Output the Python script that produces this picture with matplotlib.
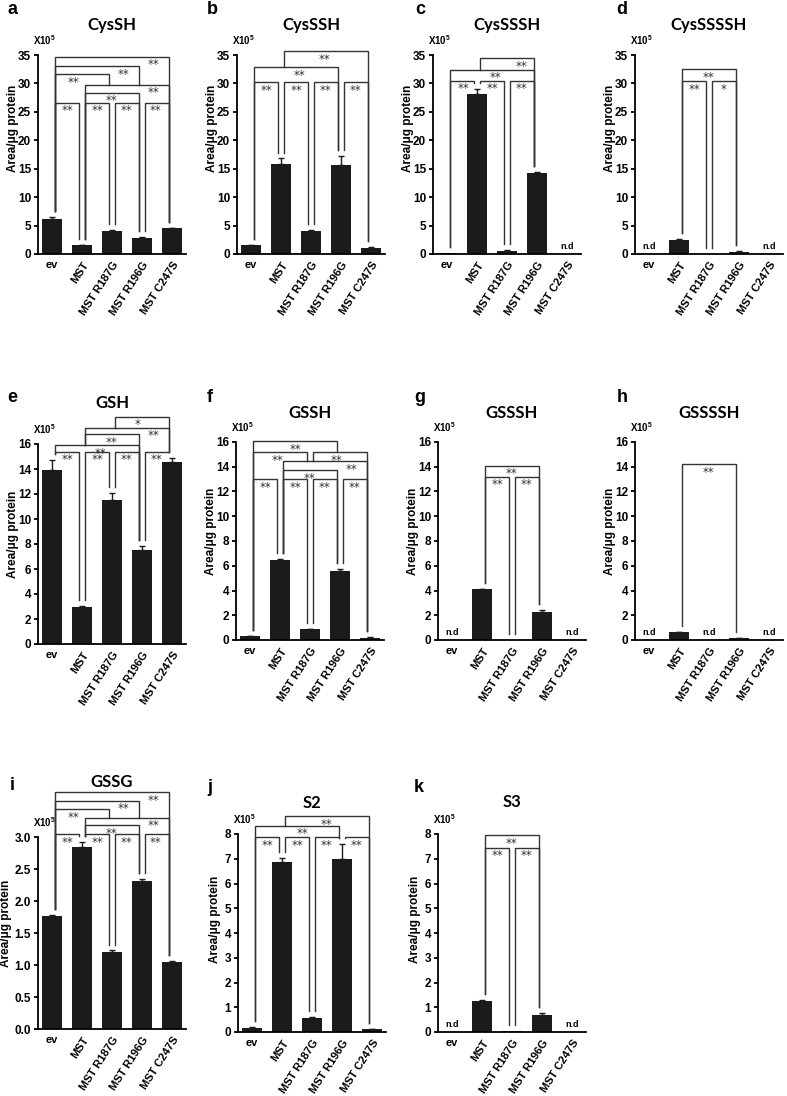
import numpy as np
import matplotlib
matplotlib.use('Agg')
import matplotlib.pyplot as plt

plt.rcParams['font.family'] = ['Liberation Sans', 'DejaVu Sans']
plt.rcParams['font.weight'] = 'bold'
plt.rcParams['mathtext.fontset'] = 'custom'
plt.rcParams['mathtext.rm'] = 'Liberation Sans:bold'
plt.rcParams['mathtext.bf'] = 'Liberation Sans:bold'

# groups on the x axis
groups = ['ev', 'MST', 'MST R187G', 'MST R196G', 'MST C247S']

# mean values (x10^5 area / ug protein), None = n.d
cyssh = [6.2, 1.5, 4.1, 2.85, 4.5]
cyssh_err = [0.3, 0.1, 0.2, 0.15, 0.15]
cysssh = [1.5, 15.8, 4.0, 15.6, 1.1]
cysssh_err = [0.15, 1.0, 0.2, 1.6, 0.1]
cyssssh = [0.1, 28.1, 0.6, 14.2, None]
cyssssh_err = [0, 0.9, 0.1, 0.2, 0]
cysssssh = [None, 2.4, 0.05, 0.4, None]
cysssssh_err = [0, 0.2, 0, 0.05, 0]

gsh = [13.9, 2.95, 11.5, 7.5, 14.6]
gsh_err = [0.8, 0.1, 0.6, 0.35, 0.3]
gssh = [0.3, 6.5, 0.85, 5.6, 0.2]
gssh_err = [0.03, 0.05, 0.03, 0.12, 0.02]
gsssh = [None, 4.1, 0.04, 2.3, None]
gsssh_err = [0, 0.05, 0, 0.1, 0]
gssssh = [None, 0.65, None, 0.15, None]
gssssh_err = [0, 0.03, 0, 0.02, 0]

gssg = [1.77, 2.84, 1.21, 2.31, 1.05]
gssg_err = [0.01, 0.08, 0.02, 0.03, 0.02]
s2 = [0.18, 6.85, 0.58, 7.0, 0.12]
s2_err = [0.02, 0.18, 0.03, 0.6, 0.01]
s3 = [None, 1.25, 0.03, 0.7, None]
s3_err = [0, 0.05, 0, 0.07, 0]

# significance brackets: (left group, right group, height, star x, label)
br_a = [(0, 1, 26.6, 0.5, '**'), (1, 2, 26.6, 1.5, '**'), (2, 3, 26.6, 2.5, '**'),
        (3, 4, 26.6, 3.45, '**'), (1, 3, 28.4, 2.0, '**'), (1, 4, 29.8, 3.4, '**'),
        (0, 2, 31.6, 0.7, '**'), (0, 3, 33.0, 2.4, '**'), (0, 4, 34.7, 3.4, '**')]
br_b = [(0, 1, 30.2, 0.5, '**'), (1, 2, 30.2, 1.5, '**'), (2, 3, 30.2, 2.5, '**'),
        (3, 4, 30.2, 3.5, '**'), (0, 3, 32.9, 1.6, '**'), (1, 4, 35.7, 2.45, '**')]
br_c = [(0, 1, 30.5, 0.55, '**'), (1, 2, 30.5, 1.5, '**'), (2, 3, 30.5, 2.5, '**'),
        (0, 3, 32.4, 1.6, '**'), (1, 3, 34.4, 2.5, '**')]
br_d = [(1, 2, 30.4, 1.5, '**'), (2, 3, 30.4, 2.5, '*'), (1, 3, 32.5, 2.0, '**')]
br_e = [(0, 1, 15.4, 0.5, '**'), (1, 2, 15.4, 1.5, '**'), (2, 3, 15.4, 2.5, '**'),
        (3, 4, 15.4, 3.5, '**'), (0, 3, 15.9, 1.6, '**'), (1, 3, 16.8, 2.0, '**'),
        (1, 4, 17.3, 3.4, '**'), (2, 4, 18.2, 2.85, '*')]
br_f = [(0, 1, 13.0, 0.5, '**'), (1, 2, 13.0, 1.5, '**'), (2, 3, 13.0, 2.5, '**'),
        (3, 4, 13.0, 3.5, '**'), (1, 3, 13.7, 2.0, '**'), (1, 4, 14.45, 3.4, '**'),
        (0, 2, 15.2, 0.9, '**'), (2, 4, 15.2, 2.9, '**'), (0, 3, 16.05, 1.5, '**')]
br_g = [(1, 2, 13.2, 1.5, '**'), (2, 3, 13.2, 2.5, '**'), (1, 3, 14.1, 2.0, '**')]
br_h = [(1, 3, 14.2, 2.0, '**')]
br_i = [(0, 1, 3.04, 0.5, '**'), (1, 2, 3.04, 1.5, '**'), (2, 3, 3.04, 2.5, '**'),
        (3, 4, 3.04, 3.45, '**'), (1, 3, 3.18, 2.0, '**'), (1, 4, 3.30, 3.4, '**'),
        (0, 2, 3.44, 0.7, '**'), (0, 3, 3.57, 2.4, '**'), (0, 4, 3.70, 3.4, '**')]
br_j = [(0, 1, 7.87, 0.5, '**'), (1, 2, 7.87, 1.5, '**'), (2, 3, 7.87, 2.5, '**'),
        (3, 4, 7.87, 3.5, '**'), (0, 3, 8.33, 1.7, '**'), (1, 4, 8.72, 2.5, '**')]
br_k = [(1, 2, 7.45, 1.5, '**'), (2, 3, 7.45, 2.5, '**'), (1, 3, 7.96, 2.0, '**')]

W, H = 787, 1096
fig = plt.figure(figsize=(W / 100, H / 100), dpi=100)
BAR = '#1b1b1b'
LINE = '#333333'


def fx(x):
    return x / W


def fy(y):
    return 1 - y / H


# letter, title, values, errors, brackets, ymax, tick step, fmt,
# axes box (left, top, bottom) in px, title y, letter pos, ylabel (x, y) frac
panels = [
    ('a', 'CysSH', cyssh, cyssh_err, br_a, 35, 5, '%d', (38, 55, 254), 25, (12, 9), (-0.128, 0.63)),
    ('b', 'CysSSH', cysssh, cysssh_err, br_b, 35, 5, '%d', (237, 55, 254), 25, (212, 9), (-0.128, 0.63)),
    ('c', 'CysSSSH', cyssssh, cyssssh_err, br_c, 35, 5, '%d', (433, 55, 254), 25, (420, 10), (-0.128, 0.63)),
    ('d', 'CysSSSSH', cysssssh, cysssssh_err, br_d, 35, 5, '%d', (635, 55, 254), 25, (622, 9), (-0.128, 0.63)),
    ('e', 'GSH', gsh, gsh_err, br_e, 16, 2, '%d', (38, 444, 644), 403, (12, 397), (-0.128, 0.55)),
    ('f', 'GSSH', gssh, gssh_err, br_f, 16, 2, '%d', (236, 442, 640), 413, (210, 397), (-0.128, 0.55)),
    ('g', 'GSSSH', gsssh, gsssh_err, br_g, 16, 2, '%d', (438, 442, 640), 413, (420, 397), (-0.128, 0.55)),
    ('h', 'GSSSSH', gssssh, gssssh_err, br_h, 16, 2, '%d', (635, 442, 640), 413, (622, 397), (-0.128, 0.55)),
    ('i', 'GSSG', gssg, gssg_err, br_i, 3.0, 0.5, '%.1f', (38, 837, 1029), 782, (12, 786), (-0.175, 0.55)),
    ('j', 'S2', s2, s2_err, br_j, 8, 1, '%d', (238, 834, 1032), 803, (210, 788), (-0.115, 0.57)),
    ('k', 'S3', s3, s3_err, br_k, 8, 1, '%d', (438, 834, 1032), 802, (419, 787), (-0.115, 0.57)),
]

d = 0.1
for letter, title, values, errs, brackets, ymax, step, fmt, box, ty, lpos, ylab in panels:
    left, top, bottom = box
    width = 148
    ax = fig.add_axes([fx(left), fy(bottom), width / W, (bottom - top) / H])
    vals = np.array([np.nan if v is None else v for v in values], float)
    errs = np.array(errs, float)
    x = np.arange(len(groups))
    ax.bar(x, np.nan_to_num(vals), width=0.67, color=BAR, zorder=2)
    m = (errs > 0) & ~np.isnan(vals)
    ax.errorbar(x[m], vals[m], yerr=[np.zeros(m.sum()), errs[m]], fmt='none',
                ecolor=BAR, elinewidth=1.0, capsize=2.4, capthick=1.0, zorder=3)
    for k in np.where(np.isnan(vals))[0]:
        ax.annotate('n.d', (k, 0), xytext=(0, 2.5), textcoords='offset points',
                    ha='center', va='bottom', fontsize=6.5, fontweight='bold',
                    annotation_clip=False)

    # brackets
    tops = np.nan_to_num(vals) + errs
    gap = 0.03 * ymax
    for (i, j, h, sx, txt) in brackets:
        xl, xr = i + d, j - d
        bots = []
        for xleg, idx in ((xl, i), (xr, j)):
            below = [b[2] for b in brackets
                     if b[2] < h and b[0] + d + 1e-6 < xleg < b[1] - d - 1e-6]
            bots.append(max(below) if below else min(tops[idx] + gap, h))
        ax.plot([xl, xl, xr, xr], [bots[0], h, h, bots[1]], color=LINE, lw=1.0,
                clip_on=False, solid_joinstyle='miter', zorder=4)
        ax.annotate(txt, (sx, h), xytext=(0, -1.2), textcoords='offset points',
                    ha='center', va='top', fontsize=8.5, family='DejaVu Sans',
                    fontweight='normal', color=LINE, annotation_clip=False)

    ax.set_xlim(-0.47, 4.47)
    ax.set_ylim(0, ymax)
    ticks = np.arange(0, ymax + step / 2, step)
    ax.set_yticks(ticks)
    ax.set_yticklabels([fmt % t for t in ticks])
    ax.set_xticks(x)
    ax.set_xticklabels(groups, rotation=57, ha='right', rotation_mode='anchor')
    lab0 = ax.get_xticklabels()[0]
    lab0.set_rotation(0)
    lab0.set_ha('center')
    for s in ['top', 'right']:
        ax.spines[s].set_visible(False)
    for s in ['left', 'bottom']:
        ax.spines[s].set_linewidth(1.3)
    ax.tick_params(axis='y', width=1.3, length=3, labelsize=8.5, pad=2)
    ax.tick_params(axis='x', length=0, labelsize=8, pad=4)
    for t in ax.get_xticklabels() + ax.get_yticklabels():
        t.set_fontweight('bold')
    ax.set_ylabel('Area/\u03bcg protein', fontsize=8.5, fontweight='bold')
    ax.yaxis.set_label_coords(*ylab)

    fig.text(fx(left + width / 2), fy(ty), title, ha='center', va='center',
             fontsize=12, fontweight='bold', family=['Lato', 'DejaVu Sans'])
    fig.text(fx(lpos[0]), fy(lpos[1]), letter, ha='center', va='center',
             fontsize=13, fontweight='bold')
    fig.text(fx(left - 5), fy(top - 15), r'X10$^{\mathbf{5}}$', ha='left',
             va='center', fontsize=7, fontweight='bold')

fig.savefig('out.png', dpi=100)
